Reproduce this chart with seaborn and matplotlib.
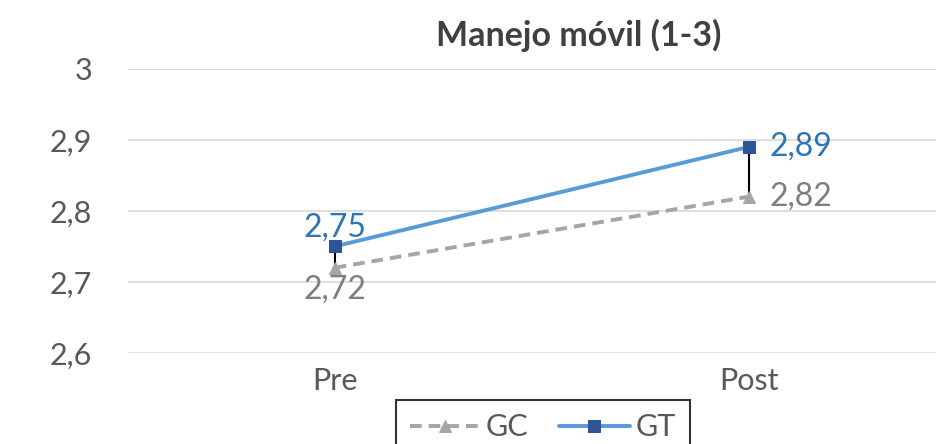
import matplotlib
matplotlib.use("Agg")
import matplotlib.pyplot as plt
import seaborn as sns
import pandas as pd

categories = ["Pre", "Post"]
gc_values = [2.72, 2.82]
gt_values = [2.75, 2.89]
y_ticks = [2.6, 2.7, 2.8, 2.9, 3.0]
title = "Manejo móvil (1-3)"

sns.set_theme(style="white")
plt.rcParams["font.family"] = ["Lato", "DejaVu Sans"]

df = pd.DataFrame({
    "fase": categories * 2,
    "valor": gc_values + gt_values,
    "grupo": ["GC"] * 2 + ["GT"] * 2,
})

fig = plt.figure(figsize=(9.36, 4.44), dpi=100)
ax = fig.add_axes([0.137, 0.205, 0.863, 0.64])

xpos = list(range(len(categories)))
# high-low lines
ax.vlines(xpos, gc_values, gt_values, color="black", lw=1.5, zorder=2)

gc = df[df.grupo == "GC"].copy()
gt = df[df.grupo == "GT"].copy()
gc["x"] = xpos
gt["x"] = xpos
sns.lineplot(data=gc, x="x", y="valor", ax=ax, color="#A5A5A5", lw=2.8,
             linestyle=(0, (3, 1.8)), marker="^", markersize=8,
             markerfacecolor="#A5A5A5", markeredgecolor="#A5A5A5",
             label="GC", zorder=3)
sns.lineplot(data=gt, x="x", y="valor", ax=ax, color="#5B9BD5", lw=2.8,
             marker="s", markersize=8, markerfacecolor="#2F5597",
             markeredgecolor="#2F5597", label="GT", zorder=4)

fmt = lambda v: f"{v:.2f}".replace(".", ",")
LFS = 23
ax.annotate(fmt(gt_values[0]), (xpos[0], gt_values[0]), xytext=(0, 3),
            textcoords="offset points", ha="center", va="bottom",
            color="#2E75B6", fontsize=LFS)
ax.annotate(fmt(gc_values[0]), (xpos[0], gc_values[0]), xytext=(0, -5),
            textcoords="offset points", ha="center", va="top",
            color="#7F7F7F", fontsize=LFS)
ax.annotate(fmt(gt_values[1]), (xpos[1], gt_values[1]), xytext=(15, 0),
            textcoords="offset points", ha="left", va="center",
            color="#2E75B6", fontsize=LFS)
ax.annotate(fmt(gc_values[1]), (xpos[1], gc_values[1]), xytext=(15, 0),
            textcoords="offset points", ha="left", va="center",
            color="#7F7F7F", fontsize=LFS)

ax.set_xlim(-0.499, 1.453)
ax.set_ylim(2.6, 3.0)
ax.set_xticks(xpos)
ax.set_xticklabels(categories)
ax.set_yticks(y_ticks)
ax.set_yticklabels([("%g" % t).replace(".", ",") for t in y_ticks])
ax.tick_params(axis="both", labelsize=22, colors="#595959", length=0)
ax.tick_params(axis="x", pad=10)
ax.tick_params(axis="y", pad=26)
ax.yaxis.grid(True, color="#D9D9D9", lw=1.2)
ax.xaxis.grid(False)
for s in ax.spines.values():
    s.set_visible(False)
ax.set_xlabel("")
ax.set_ylabel("")

fig.text(0.618, 0.921, title, ha="center", va="center", fontsize=24.5,
         fontweight="bold", color="#404040")

leg = ax.legend(loc="upper center", bbox_to_anchor=(0.58, 0.1),
                bbox_transform=fig.transFigure, ncol=2, frameon=True,
                fontsize=22, handlelength=2.3, columnspacing=1.0,
                handletextpad=0.2, borderpad=0.45, borderaxespad=0,
                fancybox=False)
leg.get_frame().set_edgecolor("black")
leg.get_frame().set_linewidth(1.5)
for t in leg.get_texts():
    t.set_color("#595959")

fig.savefig("out.png", dpi=100)
